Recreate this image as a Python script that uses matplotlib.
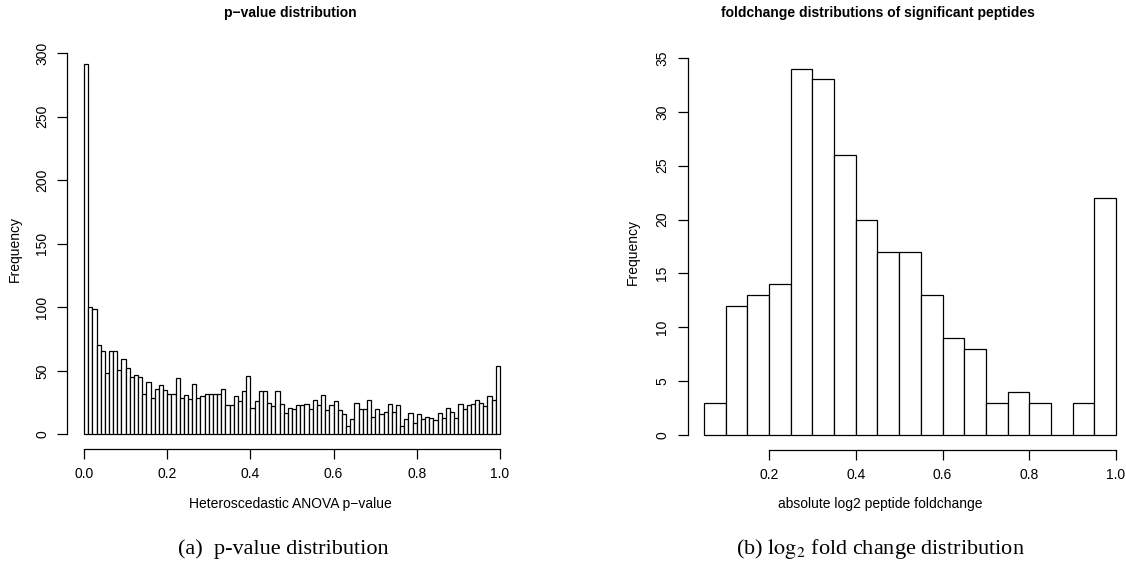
import numpy as np
import matplotlib
matplotlib.use("Agg")
import matplotlib.pyplot as plt

# ---- data ----
pval_bin_width = 0.01
pval_counts = [291, 100, 99, 70, 66, 48, 66, 66, 51, 59,
               52, 45, 47, 45, 32, 41, 29, 36, 39, 35,
               32, 32, 44, 29, 31, 28, 40, 29, 30, 32,
               32, 32, 32, 36, 23, 23, 30, 26, 34, 46,
               21, 26, 34, 34, 25, 22, 34, 24, 17, 21,
               20, 23, 23, 24, 20, 27, 23, 31, 19, 23,
               26, 19, 16, 7, 12, 25, 20, 20, 27, 14,
               20, 16, 18, 24, 18, 23, 7, 12, 17, 9,
               16, 12, 14, 13, 11, 17, 13, 21, 18, 13,
               24, 20, 23, 24, 27, 25, 22, 30, 27, 54]
fc_bin_start = 0.05
fc_bin_width = 0.05
fc_counts = [3, 12, 13, 14, 34, 33, 26, 20, 17, 17, 13, 9, 8, 3, 4, 3, 0, 3, 22]

left_xticks = [0.0, 0.2, 0.4, 0.6, 0.8, 1.0]
left_yticks = [0, 50, 100, 150, 200, 250, 300]
right_xticks = [0.2, 0.4, 0.6, 0.8, 1.0]
right_yticks = [0, 5, 10, 15, 20, 25, 30, 35]

plt.rcParams["mathtext.fontset"] = "stix"

W, H = 1126, 569
fig = plt.figure(figsize=(W / 100, H / 100), dpi=100)
sans = ["Liberation Sans", "DejaVu Sans"]
serif = ["Liberation Serif", "DejaVu Serif"]


def ax_px(x0, x1, ytop, ybot):
    return fig.add_axes([x0 / W, (H - ybot) / H, (x1 - x0) / W, (ybot - ytop) / H])


def style(ax, xt, yt, xfmt):
    for s in ["top", "right"]:
        ax.spines[s].set_visible(False)
    ax.spines["left"].set_bounds(yt[0], yt[-1])
    ax.spines["bottom"].set_bounds(xt[0], xt[-1])
    for s in ["left", "bottom"]:
        ax.spines[s].set_linewidth(0.9)
    ax.set_xticks(xt)
    ax.set_xticklabels([xfmt.format(v) for v in xt], fontsize=10, family=sans)
    ax.set_yticks(yt)
    ax.set_yticklabels([str(v) for v in yt], fontsize=10, family=sans,
                       rotation=90, va="center")
    ax.tick_params(direction="out", length=7, width=0.9, pad=6)
    ax.patch.set_visible(False)


# ---- left: p-value histogram ----
n = len(pval_counts)
edges = np.arange(n) * pval_bin_width
ax1 = ax_px(67.4, 516.6, 49.7, 449.2)
ax1.bar(edges, pval_counts, width=pval_bin_width, align="edge",
        facecolor="white", edgecolor="black", linewidth=0.9)
ax1.set_xlim(-0.04, 1.04)
ax1.set_ylim(-0.04 * max(pval_counts), 1.04 * max(pval_counts))
style(ax1, left_xticks, left_yticks, "{:.1f}")
ax1.set_xlabel("Heteroscedastic ANOVA p\u2212value", fontsize=10, family=sans)
ax1.xaxis.set_label_coords((290 - 67.4) / 449.2, -(497 - 449.2) / 399.5)
ax1.set_ylabel("Frequency", fontsize=10, family=sans, labelpad=10)
fig.text(290 / W, 1 - 13 / H, "p\u2212value distribution", ha="center", va="center",
         fontsize=10, fontweight="bold", family=sans)

# ---- right: fold change histogram ----
m = len(fc_counts)
fedges = fc_bin_start + np.arange(m) * fc_bin_width
lo, hi = fc_bin_start, fc_bin_start + m * fc_bin_width
ax2 = ax_px(687.5, 1132.5, 54, 449.7)
ax2.bar(fedges, fc_counts, width=fc_bin_width, align="edge",
        facecolor="white", edgecolor="black", linewidth=0.9)
ax2.set_xlim(lo - 0.04 * (hi - lo), hi + 0.04 * (hi - lo))
ax2.set_ylim(-0.04 * max(fc_counts), 1.04 * max(fc_counts))
style(ax2, right_xticks, right_yticks, "{:.1f}")
ax2.set_xlabel("absolute log2 peptide foldchange", fontsize=10, family=sans)
ax2.xaxis.set_label_coords((880 - 687.5) / 445, -(497 - 449.7) / 395.7)
ax2.set_ylabel("Frequency", fontsize=10, family=sans, labelpad=11)
fig.text(878 / W, 1 - 13 / H, "foldchange distributions of significant peptides",
         ha="center", va="center", fontsize=10, fontweight="bold", family=sans)

# ---- captions ----
fig.text(283 / W, 1 - 549 / H, "(a)  p-value distribution", ha="center", va="center",
         fontsize=16, family=serif)
fig.text(880 / W, 1 - 549 / H, "(b) $\\mathrm{log}_2$ fold change distribution", ha="center",
         va="center", fontsize=16, family=serif)

fig.savefig("out.png", dpi=100)
